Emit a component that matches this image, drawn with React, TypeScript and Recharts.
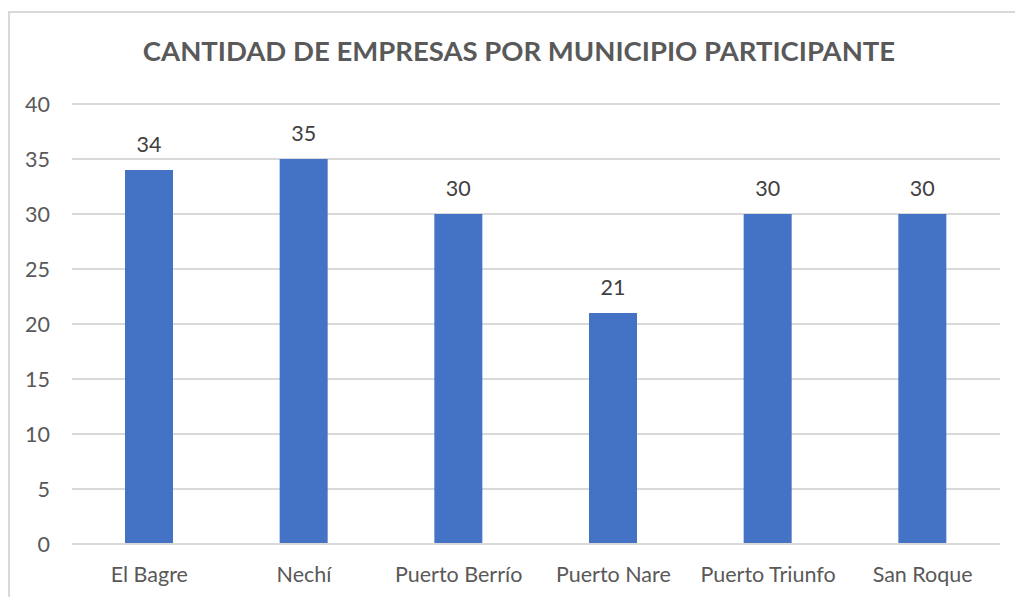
import { Bar, BarChart, CartesianGrid, LabelList, XAxis, YAxis } from "recharts";

const municipios = ["El Bagre", "Nechí", "Puerto Berrío", "Puerto Nare", "Puerto Triunfo", "San Roque"];
const empresas = [34, 35, 30, 21, 30, 30];
const yTicks = [0, 5, 10, 15, 20, 25, 30, 35, 40];

const data = municipios.map((m, i) => ({ municipio: m, empresas: empresas[i] }));

const font = "Lato, 'Open Sans', 'Liberation Sans', sans-serif";
const textColor = "#595959";

export default function App() {
  return (
    <div style={{ position: "absolute", left: 0, top: 0, width: 1015, height: 597, background: "#fff", overflow: "hidden", fontFamily: font }}>
      <div
        style={{
          position: "absolute",
          left: 8,
          top: 11,
          width: 1030,
          height: 600,
          border: "2px solid #d9d9d9",
          boxSizing: "border-box",
        }}
      />
      <div
        style={{
          position: "absolute",
          left: 0,
          top: 34,
          width: 1038,
          textAlign: "center",
          fontSize: 27.5,
          fontWeight: 700,
          color: textColor,
        }}
      >
        CANTIDAD DE EMPRESAS POR MUNICIPIO PARTICIPANTE
      </div>
      <div style={{ position: "absolute", left: 0, top: 0 }}>
        <BarChart width={1015} height={597} data={data} margin={{ top: 104, right: 15, bottom: 0, left: 0 }}>
          <CartesianGrid vertical={false} stroke="#d9d9d9" strokeWidth={2} />
          <XAxis
            dataKey="municipio"
            height={53}
            axisLine={{ stroke: "#d9d9d9", strokeWidth: 2 }}
            tickLine={false}
            tickMargin={17}
            tick={{ fill: textColor, fontSize: 21.5, fontFamily: font }}
            interval={0}
          />
          <YAxis
            width={72}
            domain={[0, 40]}
            ticks={yTicks}
            axisLine={false}
            tickLine={false}
            tickMargin={16}
            tick={{ fill: textColor, fontSize: 21.5, fontFamily: font }}
          />
          <Bar dataKey="empresas" fill="#4472C4" barSize={48} isAnimationActive={false}>
            <LabelList dataKey="empresas" position="top" offset={18} fill="#404040" fontSize={21.5} fontFamily={font} />
          </Bar>
        </BarChart>
      </div>
    </div>
  );
}
